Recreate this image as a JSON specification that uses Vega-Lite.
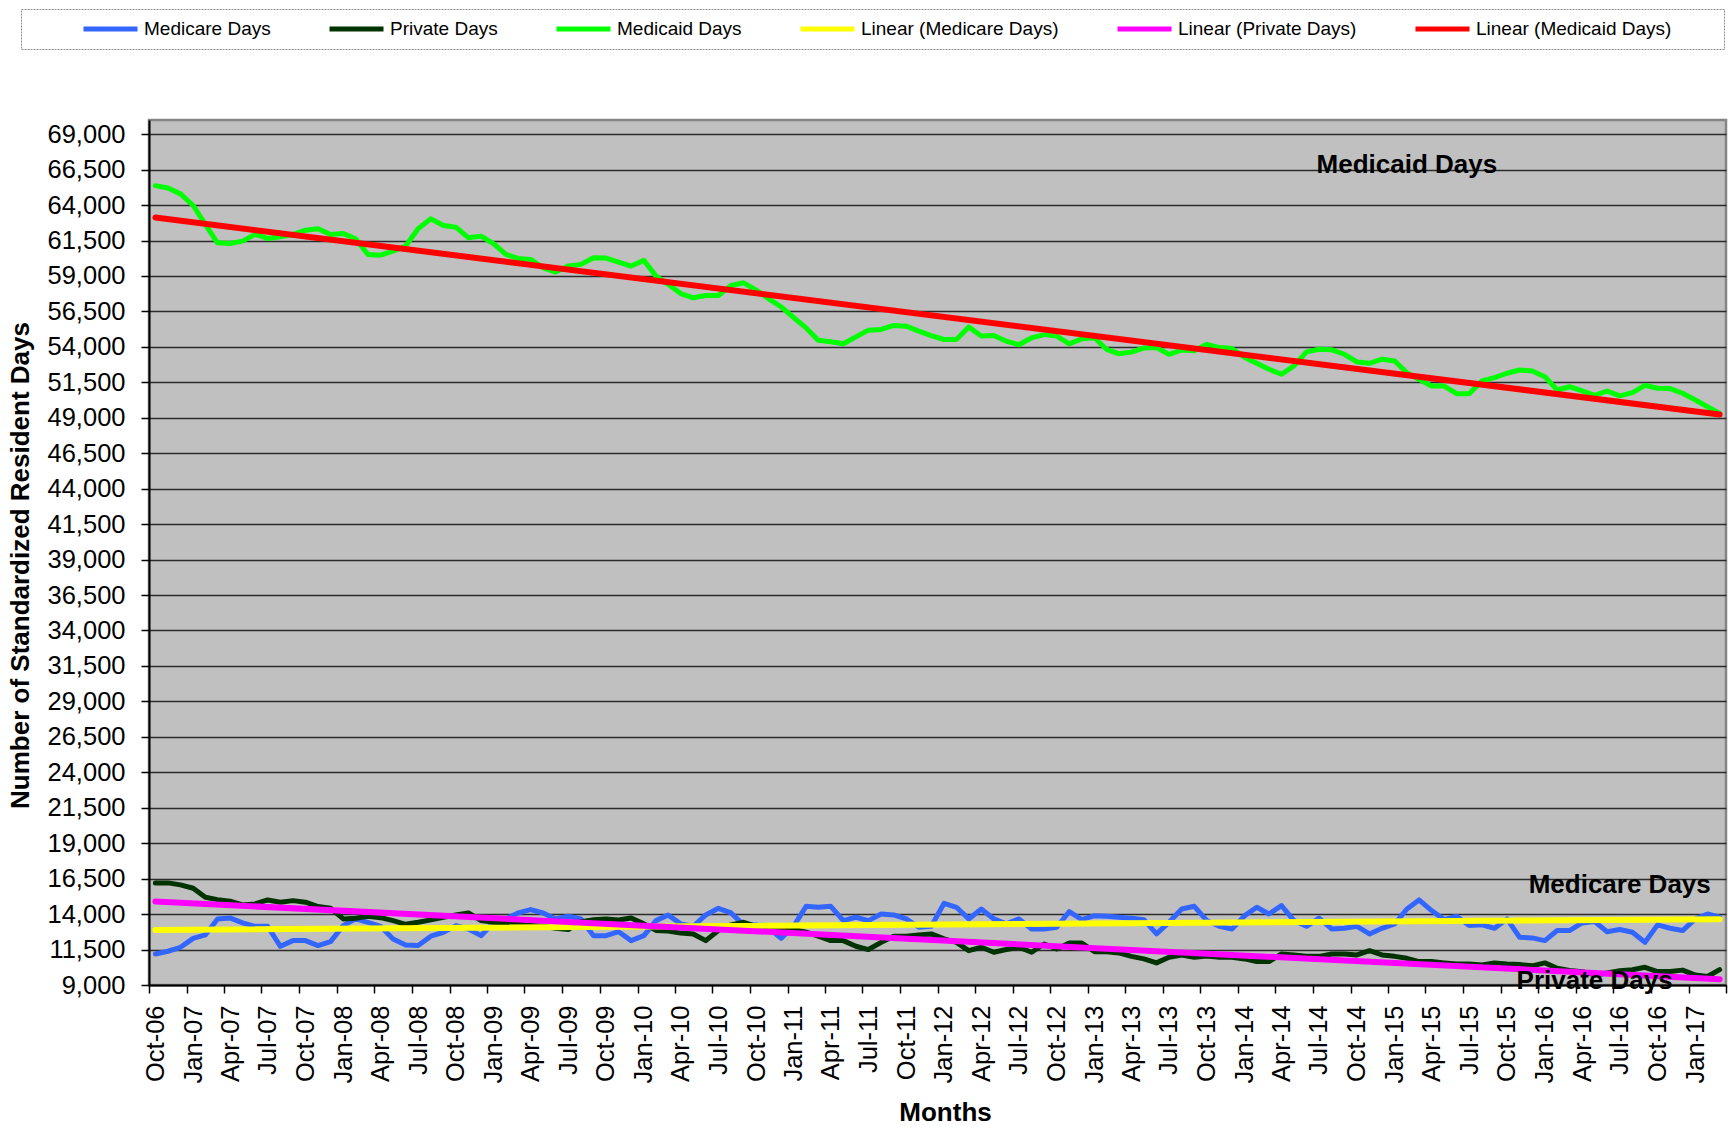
{
  "$schema": "https://vega.github.io/schema/vega-lite/v6.json",
  "width": 1577,
  "height": 865,
  "autosize": {"type": "none"},
  "padding": {"left": 149, "top": 120, "right": 4, "bottom": 141},
  "background": "white",
  "config": {
    "font": "Liberation Sans",
    "view": {"fill": "#C0C0C0", "stroke": "#858585", "strokeWidth": 2.5},
    "axis": {"labelFont": "Liberation Sans", "titleFont": "Liberation Sans", "labelColor": "black", "titleColor": "black", "tickColor": "black", "domainColor": "black", "domainWidth": 2, "tickWidth": 1.5},
    "legend": {"strokeColor": "#8c8c8c", "strokeDash": [2, 1], "strokeWidth": 1, "padding": 10, "fillColor": "white", "labelFont": "Liberation Sans", "titleFont": "Liberation Sans"}
  },
  "datasets": {
    "monthly": [
      {"d": "2006-10", "Medicare Days": 11190, "Private Days": 16200, "Medicaid Days": 65370},
      {"d": "2006-11", "Medicare Days": 11380, "Private Days": 16200, "Medicaid Days": 65210},
      {"d": "2006-12", "Medicare Days": 11660, "Private Days": 16060, "Medicaid Days": 64790},
      {"d": "2007-01", "Medicare Days": 12290, "Private Days": 15820, "Medicaid Days": 63970},
      {"d": "2007-02", "Medicare Days": 12530, "Private Days": 15190, "Medicaid Days": 62630},
      {"d": "2007-03", "Medicare Days": 13660, "Private Days": 15020, "Medicaid Days": 61340},
      {"d": "2007-04", "Medicare Days": 13730, "Private Days": 14910, "Medicaid Days": 61290},
      {"d": "2007-05", "Medicare Days": 13380, "Private Days": 14650, "Medicaid Days": 61460},
      {"d": "2007-06", "Medicare Days": 13140, "Private Days": 14720, "Medicaid Days": 61930},
      {"d": "2007-07", "Medicare Days": 13140, "Private Days": 15000, "Medicaid Days": 61650},
      {"d": "2007-08", "Medicare Days": 11730, "Private Days": 14840, "Medicaid Days": 61760},
      {"d": "2007-09", "Medicare Days": 12130, "Private Days": 14950, "Medicaid Days": 61930},
      {"d": "2007-10", "Medicare Days": 12130, "Private Days": 14840, "Medicaid Days": 62230},
      {"d": "2007-11", "Medicare Days": 11780, "Private Days": 14530, "Medicaid Days": 62330},
      {"d": "2007-12", "Medicare Days": 12060, "Private Days": 14410, "Medicaid Days": 61930},
      {"d": "2008-01", "Medicare Days": 13190, "Private Days": 13660, "Medicaid Days": 62000},
      {"d": "2008-02", "Medicare Days": 13660, "Private Days": 13710, "Medicaid Days": 61620},
      {"d": "2008-03", "Medicare Days": 13420, "Private Days": 13850, "Medicaid Days": 60520},
      {"d": "2008-04", "Medicare Days": 13140, "Private Days": 13750, "Medicaid Days": 60470},
      {"d": "2008-05", "Medicare Days": 12250, "Private Days": 13540, "Medicaid Days": 60750},
      {"d": "2008-06", "Medicare Days": 11820, "Private Days": 13280, "Medicaid Days": 61110},
      {"d": "2008-07", "Medicare Days": 11780, "Private Days": 13420, "Medicaid Days": 62330},
      {"d": "2008-08", "Medicare Days": 12440, "Private Days": 13590, "Medicaid Days": 63030},
      {"d": "2008-09", "Medicare Days": 12720, "Private Days": 13780, "Medicaid Days": 62560},
      {"d": "2008-10", "Medicare Days": 13190, "Private Days": 13940, "Medicaid Days": 62440},
      {"d": "2008-11", "Medicare Days": 12950, "Private Days": 14080, "Medicaid Days": 61690},
      {"d": "2008-12", "Medicare Days": 12480, "Private Days": 13540, "Medicaid Days": 61810},
      {"d": "2009-01", "Medicare Days": 13420, "Private Days": 13420, "Medicaid Days": 61270},
      {"d": "2009-02", "Medicare Days": 13660, "Private Days": 13380, "Medicaid Days": 60520},
      {"d": "2009-03", "Medicare Days": 14080, "Private Days": 13380, "Medicaid Days": 60240},
      {"d": "2009-04", "Medicare Days": 14320, "Private Days": 13190, "Medicaid Days": 60170},
      {"d": "2009-05", "Medicare Days": 14080, "Private Days": 13140, "Medicaid Days": 59580},
      {"d": "2009-06", "Medicare Days": 13660, "Private Days": 13000, "Medicaid Days": 59280},
      {"d": "2009-07", "Medicare Days": 13850, "Private Days": 12910, "Medicaid Days": 59700},
      {"d": "2009-08", "Medicare Days": 13660, "Private Days": 13470, "Medicaid Days": 59820},
      {"d": "2009-09", "Medicare Days": 12480, "Private Days": 13610, "Medicaid Days": 60290},
      {"d": "2009-10", "Medicare Days": 12480, "Private Days": 13660, "Medicaid Days": 60260},
      {"d": "2009-11", "Medicare Days": 12760, "Private Days": 13590, "Medicaid Days": 59980},
      {"d": "2009-12", "Medicare Days": 12130, "Private Days": 13730, "Medicaid Days": 59700},
      {"d": "2010-01", "Medicare Days": 12480, "Private Days": 13310, "Medicaid Days": 60100},
      {"d": "2010-02", "Medicare Days": 13540, "Private Days": 12850, "Medicaid Days": 58990},
      {"d": "2010-03", "Medicare Days": 13940, "Private Days": 12800, "Medicaid Days": 58410},
      {"d": "2010-04", "Medicare Days": 13310, "Private Days": 12660, "Medicaid Days": 57760},
      {"d": "2010-05", "Medicare Days": 13140, "Private Days": 12600, "Medicaid Days": 57460},
      {"d": "2010-06", "Medicare Days": 13940, "Private Days": 12130, "Medicaid Days": 57620},
      {"d": "2010-07", "Medicare Days": 14410, "Private Days": 12840, "Medicaid Days": 57620},
      {"d": "2010-08", "Medicare Days": 14080, "Private Days": 13240, "Medicaid Days": 58330},
      {"d": "2010-09", "Medicare Days": 13240, "Private Days": 13420, "Medicaid Days": 58520},
      {"d": "2010-10", "Medicare Days": 13240, "Private Days": 13140, "Medicaid Days": 58000},
      {"d": "2010-11", "Medicare Days": 13000, "Private Days": 12910, "Medicaid Days": 57390},
      {"d": "2010-12", "Medicare Days": 12290, "Private Days": 12910, "Medicaid Days": 56820},
      {"d": "2011-01", "Medicare Days": 13190, "Private Days": 12910, "Medicaid Days": 56050},
      {"d": "2011-02", "Medicare Days": 14550, "Private Days": 12720, "Medicaid Days": 55340},
      {"d": "2011-03", "Medicare Days": 14480, "Private Days": 12440, "Medicaid Days": 54470},
      {"d": "2011-04", "Medicare Days": 14550, "Private Days": 12130, "Medicaid Days": 54360},
      {"d": "2011-05", "Medicare Days": 13540, "Private Days": 12130, "Medicaid Days": 54220},
      {"d": "2011-06", "Medicare Days": 13780, "Private Days": 11730, "Medicaid Days": 54710},
      {"d": "2011-07", "Medicare Days": 13540, "Private Days": 11500, "Medicaid Days": 55180},
      {"d": "2011-08", "Medicare Days": 14010, "Private Days": 12010, "Medicaid Days": 55230},
      {"d": "2011-09", "Medicare Days": 13940, "Private Days": 12440, "Medicaid Days": 55510},
      {"d": "2011-10", "Medicare Days": 13660, "Private Days": 12440, "Medicaid Days": 55460},
      {"d": "2011-11", "Medicare Days": 13070, "Private Days": 12530, "Medicaid Days": 55110},
      {"d": "2011-12", "Medicare Days": 13140, "Private Days": 12600, "Medicaid Days": 54800},
      {"d": "2012-01", "Medicare Days": 14760, "Private Days": 12250, "Medicaid Days": 54520},
      {"d": "2012-02", "Medicare Days": 14480, "Private Days": 12010, "Medicaid Days": 54520},
      {"d": "2012-03", "Medicare Days": 13660, "Private Days": 11420, "Medicaid Days": 55410},
      {"d": "2012-04", "Medicare Days": 14360, "Private Days": 11660, "Medicaid Days": 54760},
      {"d": "2012-05", "Medicare Days": 13660, "Private Days": 11310, "Medicaid Days": 54800},
      {"d": "2012-06", "Medicare Days": 13310, "Private Days": 11500, "Medicaid Days": 54400},
      {"d": "2012-07", "Medicare Days": 13660, "Private Days": 11660, "Medicaid Days": 54150},
      {"d": "2012-08", "Medicare Days": 12950, "Private Days": 11310, "Medicaid Days": 54640},
      {"d": "2012-09", "Medicare Days": 12950, "Private Days": 11890, "Medicaid Days": 54870},
      {"d": "2012-10", "Medicare Days": 13070, "Private Days": 11540, "Medicaid Days": 54760},
      {"d": "2012-11", "Medicare Days": 14180, "Private Days": 11960, "Medicaid Days": 54220},
      {"d": "2012-12", "Medicare Days": 13610, "Private Days": 11960, "Medicaid Days": 54570},
      {"d": "2013-01", "Medicare Days": 13890, "Private Days": 11350, "Medicaid Days": 54640},
      {"d": "2013-02", "Medicare Days": 13850, "Private Days": 11350, "Medicaid Days": 53820},
      {"d": "2013-03", "Medicare Days": 13780, "Private Days": 11260, "Medicaid Days": 53510},
      {"d": "2013-04", "Medicare Days": 13710, "Private Days": 11020, "Medicaid Days": 53630},
      {"d": "2013-05", "Medicare Days": 13610, "Private Days": 10840, "Medicaid Days": 53930},
      {"d": "2013-06", "Medicare Days": 12600, "Private Days": 10560, "Medicaid Days": 53950},
      {"d": "2013-07", "Medicare Days": 13420, "Private Days": 10960, "Medicaid Days": 53470},
      {"d": "2013-08", "Medicare Days": 14360, "Private Days": 11120, "Medicaid Days": 53780},
      {"d": "2013-09", "Medicare Days": 14550, "Private Days": 10960, "Medicaid Days": 53730},
      {"d": "2013-10", "Medicare Days": 13540, "Private Days": 11040, "Medicaid Days": 54180},
      {"d": "2013-11", "Medicare Days": 13140, "Private Days": 10960, "Medicaid Days": 53950},
      {"d": "2013-12", "Medicare Days": 12950, "Private Days": 10960, "Medicaid Days": 53880},
      {"d": "2014-01", "Medicare Days": 13890, "Private Days": 10840, "Medicaid Days": 53250},
      {"d": "2014-02", "Medicare Days": 14480, "Private Days": 10650, "Medicaid Days": 52840},
      {"d": "2014-03", "Medicare Days": 14010, "Private Days": 10650, "Medicaid Days": 52420},
      {"d": "2014-04", "Medicare Days": 14600, "Private Days": 11190, "Medicaid Days": 52070},
      {"d": "2014-05", "Medicare Days": 13540, "Private Days": 11120, "Medicaid Days": 52660},
      {"d": "2014-06", "Medicare Days": 13140, "Private Days": 11020, "Medicaid Days": 53650},
      {"d": "2014-07", "Medicare Days": 13710, "Private Days": 11020, "Medicaid Days": 53830},
      {"d": "2014-08", "Medicare Days": 12950, "Private Days": 11190, "Medicaid Days": 53790},
      {"d": "2014-09", "Medicare Days": 13000, "Private Days": 11190, "Medicaid Days": 53480},
      {"d": "2014-10", "Medicare Days": 13140, "Private Days": 11120, "Medicaid Days": 52940},
      {"d": "2014-11", "Medicare Days": 12600, "Private Days": 11420, "Medicaid Days": 52840},
      {"d": "2014-12", "Medicare Days": 13000, "Private Days": 11120, "Medicaid Days": 53130},
      {"d": "2015-01", "Medicare Days": 13310, "Private Days": 11020, "Medicaid Days": 53010},
      {"d": "2015-02", "Medicare Days": 14360, "Private Days": 10880, "Medicaid Days": 52180},
      {"d": "2015-03", "Medicare Days": 15000, "Private Days": 10650, "Medicaid Days": 51710},
      {"d": "2015-04", "Medicare Days": 14250, "Private Days": 10650, "Medicaid Days": 51240},
      {"d": "2015-05", "Medicare Days": 13610, "Private Days": 10560, "Medicaid Days": 51240},
      {"d": "2015-06", "Medicare Days": 13850, "Private Days": 10480, "Medicaid Days": 50700},
      {"d": "2015-07", "Medicare Days": 13190, "Private Days": 10480, "Medicaid Days": 50700},
      {"d": "2015-08", "Medicare Days": 13240, "Private Days": 10410, "Medicaid Days": 51600},
      {"d": "2015-09", "Medicare Days": 13000, "Private Days": 10560, "Medicaid Days": 51830},
      {"d": "2015-10", "Medicare Days": 13660, "Private Days": 10480, "Medicaid Days": 52140},
      {"d": "2015-11", "Medicare Days": 12370, "Private Days": 10450, "Medicaid Days": 52370},
      {"d": "2015-12", "Medicare Days": 12320, "Private Days": 10350, "Medicaid Days": 52300},
      {"d": "2016-01", "Medicare Days": 12130, "Private Days": 10560, "Medicaid Days": 51900},
      {"d": "2016-02", "Medicare Days": 12840, "Private Days": 10180, "Medicaid Days": 50960},
      {"d": "2016-03", "Medicare Days": 12840, "Private Days": 10030, "Medicaid Days": 51190},
      {"d": "2016-04", "Medicare Days": 13380, "Private Days": 9940, "Medicaid Days": 50890},
      {"d": "2016-05", "Medicare Days": 13470, "Private Days": 9710, "Medicaid Days": 50580},
      {"d": "2016-06", "Medicare Days": 12760, "Private Days": 9850, "Medicaid Days": 50890},
      {"d": "2016-07", "Medicare Days": 12910, "Private Days": 10000, "Medicaid Days": 50540},
      {"d": "2016-08", "Medicare Days": 12720, "Private Days": 10080, "Medicaid Days": 50770},
      {"d": "2016-09", "Medicare Days": 12010, "Private Days": 10250, "Medicaid Days": 51290},
      {"d": "2016-10", "Medicare Days": 13240, "Private Days": 9950, "Medicaid Days": 51080},
      {"d": "2016-11", "Medicare Days": 13000, "Private Days": 9950, "Medicaid Days": 51060},
      {"d": "2016-12", "Medicare Days": 12840, "Private Days": 10050, "Medicaid Days": 50730},
      {"d": "2017-01", "Medicare Days": 13660, "Private Days": 9700, "Medicaid Days": 50250},
      {"d": "2017-02", "Medicare Days": 14010, "Private Days": 9600, "Medicaid Days": 49780},
      {"d": "2017-03", "Medicare Days": 13780, "Private Days": 10080, "Medicaid Days": 49310}
    ],
    "trends": [
      {"d": "2006-10", "series": "Linear (Medicare Days)", "v": 12880},
      {"d": "2017-03", "series": "Linear (Medicare Days)", "v": 13640},
      {"d": "2006-10", "series": "Linear (Private Days)", "v": 14890},
      {"d": "2017-03", "series": "Linear (Private Days)", "v": 9410},
      {"d": "2006-10", "series": "Linear (Medicaid Days)", "v": 63120},
      {"d": "2017-03", "series": "Linear (Medicaid Days)", "v": 49230}
    ],
    "notes": [
      {"d": "2015-02", "v": 66840, "t": "Medicaid Days"},
      {"d": "2016-07", "v": 16030, "t": "Medicare Days"},
      {"d": "2016-05", "v": 9290, "t": "Private Days"}
    ]
  },
  "encoding": {
    "x": {
      "field": "d", "type": "temporal", "timeUnit": "utcyearmonth", "bandPosition": 0.5,
      "scale": {"type": "utc", "domain": [{"year": 2006, "month": 10, "date": 1, "utc": true}, {"year": 2017, "month": 4, "date": 1, "utc": true}]},
      "axis": {
        "values": [
          {"year": 2006, "month": 10, "date": 1, "utc": true},
          {"year": 2007, "month": 1, "date": 1, "utc": true}, {"year": 2007, "month": 4, "date": 1, "utc": true}, {"year": 2007, "month": 7, "date": 1, "utc": true}, {"year": 2007, "month": 10, "date": 1, "utc": true},
          {"year": 2008, "month": 1, "date": 1, "utc": true}, {"year": 2008, "month": 4, "date": 1, "utc": true}, {"year": 2008, "month": 7, "date": 1, "utc": true}, {"year": 2008, "month": 10, "date": 1, "utc": true},
          {"year": 2009, "month": 1, "date": 1, "utc": true}, {"year": 2009, "month": 4, "date": 1, "utc": true}, {"year": 2009, "month": 7, "date": 1, "utc": true}, {"year": 2009, "month": 10, "date": 1, "utc": true},
          {"year": 2010, "month": 1, "date": 1, "utc": true}, {"year": 2010, "month": 4, "date": 1, "utc": true}, {"year": 2010, "month": 7, "date": 1, "utc": true}, {"year": 2010, "month": 10, "date": 1, "utc": true},
          {"year": 2011, "month": 1, "date": 1, "utc": true}, {"year": 2011, "month": 4, "date": 1, "utc": true}, {"year": 2011, "month": 7, "date": 1, "utc": true}, {"year": 2011, "month": 10, "date": 1, "utc": true},
          {"year": 2012, "month": 1, "date": 1, "utc": true}, {"year": 2012, "month": 4, "date": 1, "utc": true}, {"year": 2012, "month": 7, "date": 1, "utc": true}, {"year": 2012, "month": 10, "date": 1, "utc": true},
          {"year": 2013, "month": 1, "date": 1, "utc": true}, {"year": 2013, "month": 4, "date": 1, "utc": true}, {"year": 2013, "month": 7, "date": 1, "utc": true}, {"year": 2013, "month": 10, "date": 1, "utc": true},
          {"year": 2014, "month": 1, "date": 1, "utc": true}, {"year": 2014, "month": 4, "date": 1, "utc": true}, {"year": 2014, "month": 7, "date": 1, "utc": true}, {"year": 2014, "month": 10, "date": 1, "utc": true},
          {"year": 2015, "month": 1, "date": 1, "utc": true}, {"year": 2015, "month": 4, "date": 1, "utc": true}, {"year": 2015, "month": 7, "date": 1, "utc": true}, {"year": 2015, "month": 10, "date": 1, "utc": true},
          {"year": 2016, "month": 1, "date": 1, "utc": true}, {"year": 2016, "month": 4, "date": 1, "utc": true}, {"year": 2016, "month": 7, "date": 1, "utc": true}, {"year": 2016, "month": 10, "date": 1, "utc": true},
          {"year": 2017, "month": 1, "date": 1, "utc": true}, {"year": 2017, "month": 4, "date": 1, "utc": true}
        ],
        "labelExpr": "time(datum.value) > 1489000000000 ? '' : utcFormat(datum.value, '%b-%y')",
        "labelAngle": 270,
        "labelOffset": 6.26,
        "labelFlush": false,
        "labelOverlap": false,
        "labelBound": false,
        "labelFontSize": 25.5,
        "labelPadding": 12,
        "tickSize": 8,
        "grid": false,
        "title": "Months",
        "titleFontSize": 26,
        "titleFontWeight": "bold",
        "titleX": 796,
        "titleY": 127,
        "titleAlign": "center",
        "titleBaseline": "middle"
      }
    },
    "y": {
      "field": "v", "type": "quantitative",
      "scale": {"domain": [9000, 70000], "nice": false, "zero": false},
      "axis": {
        "values": [9000, 11500, 14000, 16500, 19000, 21500, 24000, 26500, 29000, 31500, 34000, 36500, 39000, 41500, 44000, 46500, 49000, 51500, 54000, 56500, 59000, 61500, 64000, 66500, 69000],
        "format": ",.0f",
        "labelFontSize": 25.5,
        "labelPadding": 16,
        "tickSize": 8,
        "grid": true,
        "gridColor": "#2b2b2b",
        "gridWidth": 1.6,
        "title": "Number of Standardized Resident Days",
        "titleFontSize": 26,
        "titleFontWeight": "bold",
        "titleAngle": 270,
        "titleX": -129,
        "titleY": 445,
        "titleAlign": "center",
        "titleBaseline": "middle"
      }
    }
  },
  "layer": [
    {
      "data": {"name": "monthly"},
      "transform": [{"fold": ["Medicare Days", "Private Days", "Medicaid Days"], "as": ["series", "v"]}],
      "mark": {"type": "line", "strokeWidth": 5, "strokeJoin": "round", "strokeCap": "round"},
      "encoding": {
        "color": {
          "field": "series", "type": "nominal",
          "scale": {"domain": ["Medicare Days", "Private Days", "Medicaid Days", "Linear (Medicare Days)", "Linear (Private Days)", "Linear (Medicaid Days)"], "range": ["#3366FF", "#003300", "#00FF00", "#FFFF00", "#FF00FF", "#FF0000"]},
          "legend": {
            "orient": "none", "legendX": -128, "legendY": -111, "direction": "horizontal", "columns": 6,
            "symbolType": "stroke", "symbolSize": 2916, "symbolStrokeWidth": 5, "clipHeight": 20,
            "labelFontSize": 19, "labelColor": "black", "labelOffset": 4, "labelLimit": 500,
            "columnPadding": 56, "gridAlign": "each",
            "title": " ", "titleOrient": "left", "titlePadding": 50, "titleFontSize": 18,
            "labelExpr": "datum.value == 'Linear (Medicaid Days)' ? datum.label + '\u00a0\u00a0\u00a0\u00a0\u00a0\u00a0\u00a0\u00a0\u200b' : datum.label"
          }
        }
      }
    },
    {
      "data": {"name": "trends"},
      "mark": {"type": "line", "strokeWidth": 6, "strokeCap": "round"},
      "encoding": {
        "color": {
          "field": "series", "type": "nominal",
          "scale": {"domain": ["Medicare Days", "Private Days", "Medicaid Days", "Linear (Medicare Days)", "Linear (Private Days)", "Linear (Medicaid Days)"], "range": ["#3366FF", "#003300", "#00FF00", "#FFFF00", "#FF00FF", "#FF0000"]},
          "legend": {
            "orient": "none", "legendX": -128, "legendY": -111, "direction": "horizontal", "columns": 6,
            "symbolType": "stroke", "symbolSize": 2916, "symbolStrokeWidth": 5, "clipHeight": 20,
            "labelFontSize": 19, "labelColor": "black", "labelOffset": 4, "labelLimit": 500,
            "columnPadding": 56, "gridAlign": "each",
            "title": " ", "titleOrient": "left", "titlePadding": 50, "titleFontSize": 18,
            "labelExpr": "datum.value == 'Linear (Medicaid Days)' ? datum.label + '\u00a0\u00a0\u00a0\u00a0\u00a0\u00a0\u00a0\u00a0\u200b' : datum.label"
          }
        }
      }
    },
    {
      "data": {"name": "notes"},
      "mark": {"type": "text", "fontSize": 26, "fontWeight": "bold", "font": "Liberation Sans", "color": "black", "align": "center", "baseline": "middle"},
      "encoding": {"text": {"field": "t", "type": "nominal"}}
    }
  ]
}
